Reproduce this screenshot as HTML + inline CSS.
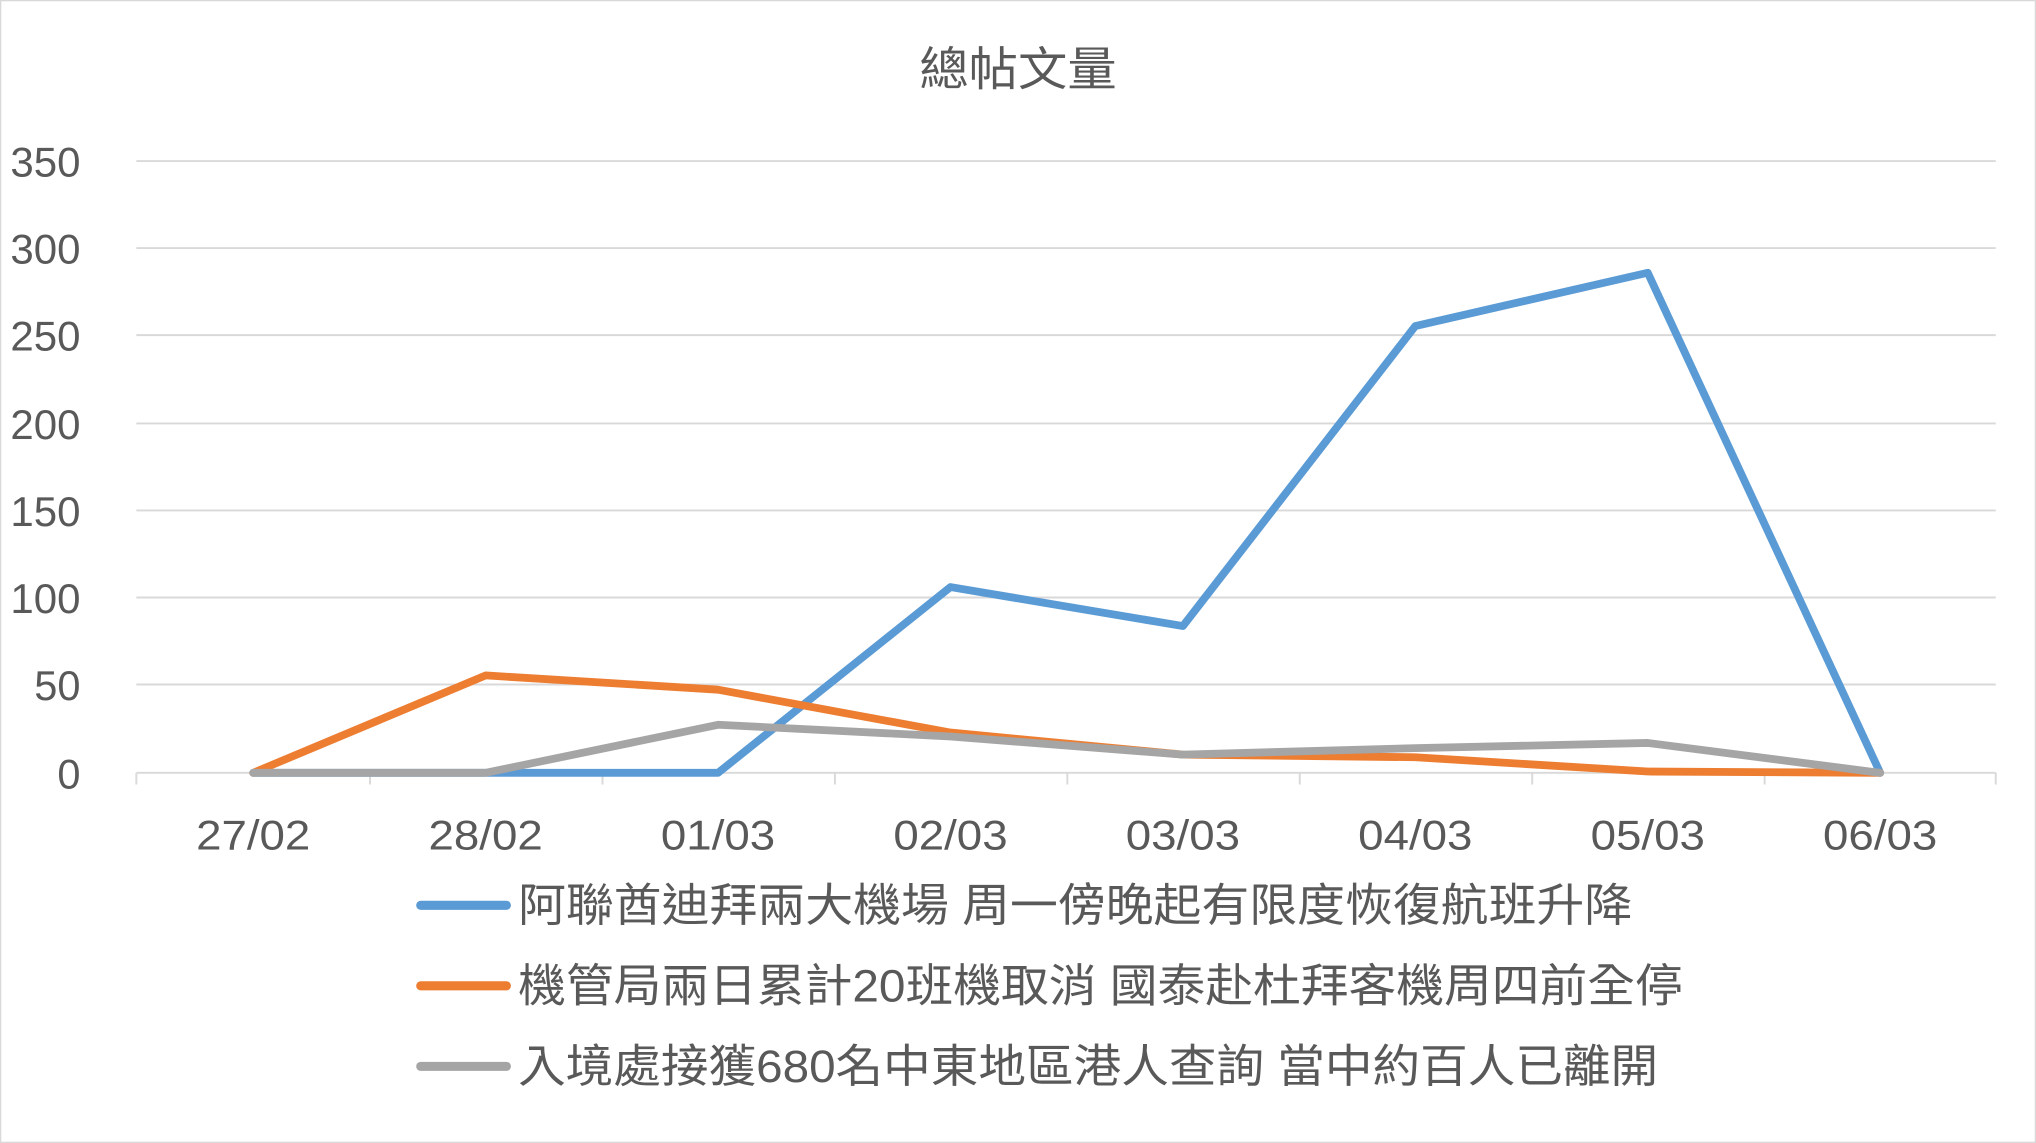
<!DOCTYPE html>
<html><head><meta charset="utf-8"><style>
html,body{margin:0;padding:0;background:#fff}
svg{display:block}
text{font-family:"Liberation Sans","Noto Sans CJK TC",sans-serif}
</style></head><body>
<svg width="2036" height="1143" viewBox="0 0 1568 880" preserveAspectRatio="none" xmlns="http://www.w3.org/2000/svg">
<rect x="0.5" y="0.5" width="1567" height="879" fill="#fff" stroke="#d9d9d9"/>
<text x="708" y="66" font-size="36" fill="#595959" textLength="152" lengthAdjust="spacingAndGlyphs">總帖文量</text>
<g stroke="#d9d9d9" stroke-width="1.5">
<line x1="105" x2="1537" y1="124" y2="124"/>
<line x1="105" x2="1537" y1="191" y2="191"/>
<line x1="105" x2="1537" y1="258" y2="258"/>
<line x1="105" x2="1537" y1="326" y2="326"/>
<line x1="105" x2="1537" y1="393" y2="393"/>
<line x1="105" x2="1537" y1="460" y2="460"/>
<line x1="105" x2="1537" y1="527" y2="527"/>
<line x1="105" x2="1537" y1="595" y2="595"/>
<line x1="105" x2="105" y1="595" y2="604"/>
<line x1="285" x2="285" y1="595" y2="604"/>
<line x1="464" x2="464" y1="595" y2="604"/>
<line x1="643" x2="643" y1="595" y2="604"/>
<line x1="822" x2="822" y1="595" y2="604"/>
<line x1="1001" x2="1001" y1="595" y2="604"/>
<line x1="1180" x2="1180" y1="595" y2="604"/>
<line x1="1359" x2="1359" y1="595" y2="604"/>
<line x1="1537" x2="1537" y1="595" y2="604"/>
</g>
<g font-size="32" fill="#595959" text-anchor="end">
<text x="62" y="136" textLength="54" lengthAdjust="spacingAndGlyphs">350</text>
<text x="62" y="203" textLength="54" lengthAdjust="spacingAndGlyphs">300</text>
<text x="62" y="270" textLength="54" lengthAdjust="spacingAndGlyphs">250</text>
<text x="62" y="338" textLength="54" lengthAdjust="spacingAndGlyphs">200</text>
<text x="62" y="405" textLength="54" lengthAdjust="spacingAndGlyphs">150</text>
<text x="62" y="472" textLength="54" lengthAdjust="spacingAndGlyphs">100</text>
<text x="62" y="539">50</text>
<text x="62" y="607">0</text>
</g>
<g font-size="32" fill="#595959" text-anchor="middle">
<text x="195" y="654" textLength="88" lengthAdjust="spacingAndGlyphs">27/02</text>
<text x="374" y="654" textLength="88" lengthAdjust="spacingAndGlyphs">28/02</text>
<text x="553" y="654" textLength="88" lengthAdjust="spacingAndGlyphs">01/03</text>
<text x="732" y="654" textLength="88" lengthAdjust="spacingAndGlyphs">02/03</text>
<text x="911" y="654" textLength="88" lengthAdjust="spacingAndGlyphs">03/03</text>
<text x="1090" y="654" textLength="88" lengthAdjust="spacingAndGlyphs">04/03</text>
<text x="1269" y="654" textLength="88" lengthAdjust="spacingAndGlyphs">05/03</text>
<text x="1448" y="654" textLength="88" lengthAdjust="spacingAndGlyphs">06/03</text>
</g>
<g fill="none" stroke-width="6" stroke-linejoin="round" stroke-linecap="round">
<polyline stroke="#5b9bd5" points="195,595 374,595 553,595 732,452 911,482 1090,251 1269,210 1448,595"/>
<polyline stroke="#ed7d31" points="195,595 374,520 553,531 732,564 911,581 1090,583 1269,594 1448,595"/>
<polyline stroke="#a5a5a5" points="195,595 374,595 553,558 732,567 911,581 1090,576 1269,572 1448,595"/>
</g>
<g stroke-width="7" stroke-linecap="round">
<line x1="324" x2="390" y1="697" y2="697" stroke="#5b9bd5"/>
<line x1="324" x2="390" y1="759" y2="759" stroke="#ed7d31"/>
<line x1="324" x2="390" y1="821" y2="821" stroke="#a5a5a5"/>
</g>
<g font-size="35" fill="#595959">
<text x="399" y="709" textLength="858" lengthAdjust="spacingAndGlyphs">阿聯酋迪拜兩大機場 周一傍晚起有限度恢復航班升降</text>
<text x="399" y="771" textLength="897" lengthAdjust="spacingAndGlyphs">機管局兩日累計20班機取消 國泰赴杜拜客機周四前全停</text>
<text x="399" y="833" textLength="878" lengthAdjust="spacingAndGlyphs">入境處接獲680名中東地區港人查詢 當中約百人已離開</text>
</g>
</svg>
</body></html>
